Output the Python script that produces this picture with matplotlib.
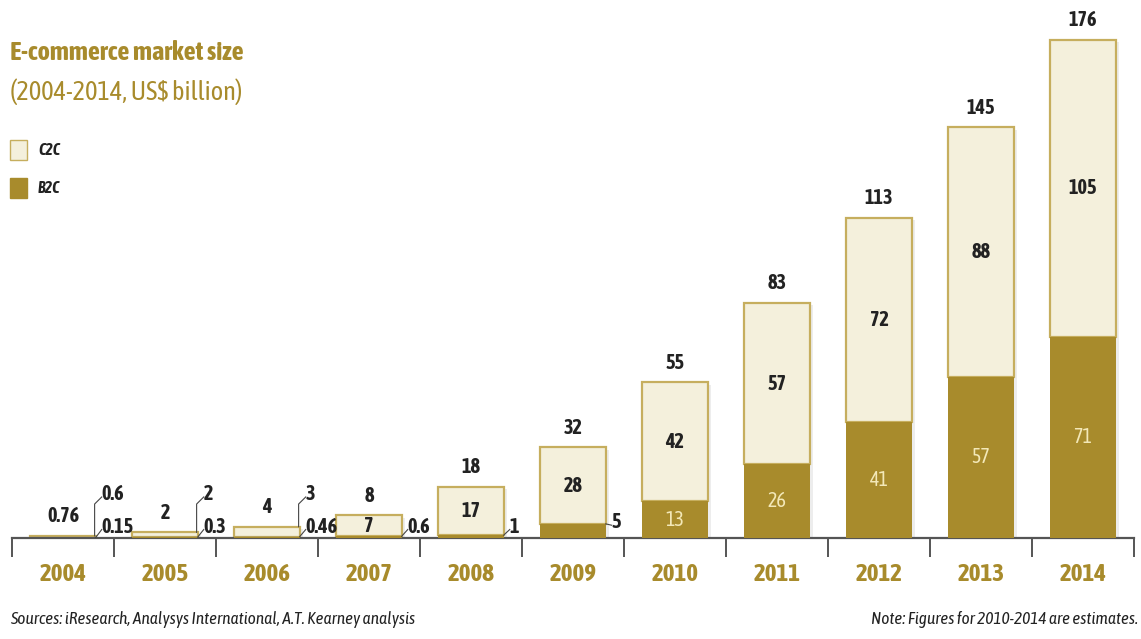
import matplotlib
matplotlib.use('Agg')
from matplotlib import pyplot as plt
from matplotlib import font_manager
import numpy as np

# data
years = ['2004', '2005', '2006', '2007', '2008', '2009',
         '2010', '2011', '2012', '2013', '2014']
b2c = [0.15, 0.3, 0.46, 0.6, 1, 5, 13, 26, 41, 57, 71]
c2c = [0.6, 2, 3, 7, 17, 28, 42, 57, 72, 88, 105]
totals = ['0.76', '2', '4', '8', '18', '32', '55', '83', '113', '145', '176']
b2c_labels = ['0.15', '0.3', '0.46', '0.6', '1', '5', '13', '26', '41', '57', '71']
c2c_labels = ['0.6', '2', '3', '7', '17', '28', '42', '57', '72', '88', '105']

GOLD = '#A88B2C'
CREAM = '#F4F0DC'
EDGE = '#C6AE5E'
TXT = '#222222'

# pick a condensed family, preferably one with a bold face
fl = font_manager.fontManager.ttflist
narrow_bold = sorted({f.name for f in fl if ('Narrow' in f.name or 'Condensed' in f.name)
                      and (f.weight in ('bold', 700) or 'Bold' in f.fname)})
narrow = sorted({f.name for f in fl if 'Narrow' in f.name or 'Condensed' in f.name})
fam = (narrow_bold or narrow)[:1]
plt.rcParams['font.family'] = fam + ['Liberation Sans', 'DejaVu Sans']

fig = plt.figure(figsize=(11.41, 6.39), dpi=100)
ax = fig.add_axes([12 / 1141, 101 / 639, 1122 / 1141, 538 / 639])

x = np.arange(len(years))
w = 0.64
b2c_a = np.array(b2c)
c2c_top = np.array([float(t) for t in totals])
c2c_h = c2c_top - b2c_a

# soft shadow
ax.bar(x + 0.03, c2c_top, w, bottom=-0.8, color='#000000', alpha=0.07, linewidth=0, zorder=1)
ax.bar(x, b2c_a, w, color=GOLD, linewidth=0, zorder=3)
ax.bar(x, c2c_h, w, bottom=b2c_a, color=CREAM, edgecolor=EDGE, linewidth=1.6, zorder=2)

ax.set_xlim(-0.5, 10.5)
ax.set_ylim(0, 190)

for s in ['top', 'right', 'left']:
    ax.spines[s].set_visible(False)
ax.spines['bottom'].set_color('#555555')
ax.spines['bottom'].set_linewidth(1.6)
ax.set_yticks([])
ax.set_xticks(np.arange(-0.5, 11, 1))
ax.set_xticklabels([])
ax.tick_params(axis='x', which='major', length=14, width=1.4, color='#555555', direction='out')
ax.set_xticks(x, minor=True)
ax.set_xticklabels(years, minor=True, fontsize=18, fontweight='bold', color=GOLD)
ax.tick_params(axis='x', which='minor', length=0, pad=18)

# totals above bars
for i in range(len(years)):
    ax.annotate(totals[i], (x[i], c2c_top[i]), xytext=(0, 7), textcoords='offset points',
                ha='center', va='bottom', fontsize=14.5, fontweight='bold', color=TXT)

# labels inside bars
for i in range(3, len(years)):
    ax.text(x[i], b2c_a[i] + c2c_h[i] / 2, c2c_labels[i], ha='center', va='center',
            fontsize=14.5, fontweight='bold', color=TXT, zorder=5)
for i in range(6, len(years)):
    ax.text(x[i], b2c_a[i] / 2, b2c_labels[i], ha='center', va='center',
            fontsize=14.5, color='#F3E8B8', zorder=5)

# small values with leader lines
edge = w / 2
for i in range(3):
    ax.plot([x[i] + edge - 0.01, x[i] + edge - 0.01, x[i] + edge + 0.06],
            [c2c_top[i], 12, 14.5], color='#444444', lw=0.8, zorder=4)
    ax.text(x[i] + edge + 0.06, 15.5, c2c_labels[i], ha='left', va='center',
            fontsize=14.5, fontweight='bold', color=TXT)
for i in range(6):
    yb = 5.5 if i == 5 else 4
    ax.text(x[i] + edge + 0.06, yb, b2c_labels[i], ha='left', va='center',
            fontsize=14.5, fontweight='bold', color=TXT)
    ax.plot([x[i] + edge, x[i] + edge + 0.06], [b2c_a[i], yb - 1], color='#444444', lw=0.8, zorder=4)

# title and legend
fig.text(10 / 1141, 1 - 52 / 639, 'E-commerce market size', fontsize=19, fontweight='bold',
         color=GOLD, va='center')
fig.text(10 / 1141, 1 - 92 / 639, '(2004-2014, US$ billion)', fontsize=19,
         color=GOLD, va='center')
lax = fig.add_axes([0, 0, 1, 1], facecolor='none')
lax.set_xlim(0, 1141)
lax.set_ylim(639, 0)
lax.axis('off')
lax.add_patch(plt.Rectangle((10, 140), 17, 20, facecolor=CREAM, edgecolor=EDGE, lw=1))
lax.add_patch(plt.Rectangle((10, 178), 17, 20, facecolor=GOLD, edgecolor=GOLD, lw=1))
lax.text(38, 150, 'C2C', fontsize=11.5, style='italic', fontweight='bold', color=TXT, va='center')
lax.text(38, 188, 'B2C', fontsize=11.5, style='italic', fontweight='bold', color=TXT, va='center')

fig.text(10 / 1141, 1 - 620 / 639, 'Sources: iResearch, Analysys International, A.T. Kearney analysis',
         fontsize=12.5, style='italic', color=TXT, va='center')
fig.text(1138 / 1141, 1 - 620 / 639, 'Note: Figures for 2010-2014 are estimates.',
         fontsize=12.5, style='italic', color=TXT, va='center', ha='right')

fig.savefig('out.png', dpi=100)
